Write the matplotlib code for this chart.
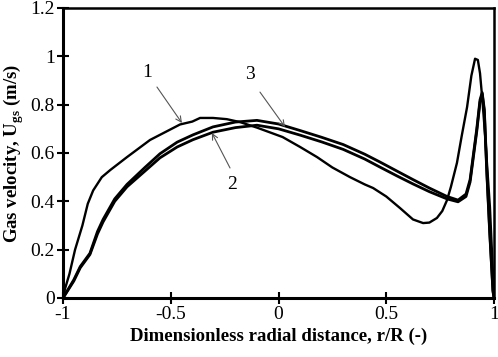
import matplotlib
matplotlib.use("Agg")
import matplotlib.pyplot as plt

plt.rcParams['font.family'] = ['Liberation Serif', 'DejaVu Serif']
plt.rcParams['mathtext.fontset'] = 'custom'
plt.rcParams['mathtext.rm'] = 'Liberation Serif'
plt.rcParams['mathtext.bf'] = 'Liberation Serif:bold'

# Curve 1
r1 = [-1, -0.99, -0.97, -0.944, -0.91, -0.885, -0.86, -0.82, -0.78, -0.703, -0.596, -0.457,
      -0.40, -0.364, -0.304, -0.24, -0.179, -0.10, 0.019, 0.10, 0.179, 0.25, 0.332, 0.40,
      0.439, 0.50, 0.564, 0.624, 0.671, 0.70, 0.735, 0.76, 0.782, 0.80, 0.828, 0.85,
      0.875, 0.895, 0.912, 0.925, 0.935, 0.945, 0.958, 0.97, 0.981, 0.99, 1.0]
u1 = [0, 0.04, 0.10, 0.20, 0.30, 0.39, 0.445, 0.50, 0.53, 0.583, 0.654, 0.718,
      0.73, 0.745, 0.745, 0.74, 0.728, 0.705, 0.666, 0.625, 0.583, 0.54, 0.50, 0.47,
      0.455, 0.42, 0.372, 0.325, 0.31, 0.312, 0.331, 0.36, 0.405, 0.46, 0.559, 0.67,
      0.79, 0.92, 0.99, 0.985, 0.93, 0.83, 0.683, 0.52, 0.376, 0.2, 0]

# Curves 2 and 3
r23 = [-1, -0.95, -0.92, -0.875, -0.84, -0.814, -0.76, -0.703, -0.62, -0.55, -0.47,
       -0.397, -0.304, -0.2, -0.1, 0, 0.1, 0.2, 0.3, 0.4, 0.47, 0.55, 0.624, 0.7, 0.782,
       0.833, 0.87, 0.889, 0.903, 0.92, 0.935, 0.945, 0.955, 0.967, 0.98, 0.995, 1.0]
u3 = [0, 0.075, 0.13, 0.185, 0.275, 0.325, 0.41, 0.47, 0.54, 0.597, 0.645,
      0.675, 0.708, 0.728, 0.735, 0.72, 0.693, 0.665, 0.635, 0.595, 0.563, 0.525, 0.49,
      0.455, 0.42, 0.405, 0.43, 0.49, 0.585, 0.70, 0.82, 0.85, 0.78, 0.52, 0.28, 0.03, 0]
u2 = [0, 0.07, 0.125, 0.18, 0.265, 0.315, 0.40, 0.46, 0.525, 0.58, 0.625,
      0.655, 0.686, 0.705, 0.715, 0.70, 0.674, 0.646, 0.615, 0.575, 0.542, 0.505, 0.472,
      0.44, 0.41, 0.398, 0.42, 0.48, 0.575, 0.69, 0.81, 0.845, 0.77, 0.51, 0.27, 0.03, 0]

xticks = [-1, -0.5, 0, 0.5, 1]
xticklabels = ['-1', '-0.5', '0', '0.5', '1']
yticks = [0, 0.2, 0.4, 0.6, 0.8, 1.0, 1.2]
yticklabels = ['0', '0.2', '0.4', '0.6', '0.8', '1', '1.2']

fig = plt.figure(figsize=(4.98, 3.57), dpi=100)
ax = fig.add_axes([0.1265, 0.1653, 0.8655, 0.8123])

ax.plot(r1, u1, color='black', lw=1.7, solid_joinstyle='round')
ax.plot(r23, u2, color='black', lw=2.0, solid_joinstyle='round')
ax.plot(r23, u3, color='black', lw=2.0, solid_joinstyle='round')

ax.set_xlim(-1, 1)
ax.set_ylim(0, 1.2)
ax.set_xticks(xticks)
ax.set_xticklabels(xticklabels)
ax.set_yticks(yticks)
ax.set_yticklabels(yticklabels)
ax.tick_params(direction='inout', length=8, width=1.5, labelsize=14, color='black', pad=2)

for side in ['left', 'bottom']:
    ax.spines[side].set_linewidth(2.2)
for side in ['top', 'right']:
    ax.spines[side].set_linewidth(1.8)

ax.set_xlabel('Dimensionless radial distance, r/R (-)', fontsize=13.5, fontweight='bold', labelpad=3)
ax.set_ylabel(r'Gas velocity, U$_{\mathbf{gs}}$ (m/s)', fontsize=13.5, fontweight='bold', labelpad=3)

arrow = dict(arrowstyle='->', color='#555555', lw=0.8, shrinkA=0, shrinkB=0)
ax.annotate('', xy=(-0.448, 0.724), xytext=(-0.564, 0.873), arrowprops=arrow)
ax.text(-0.61, 0.935, '1', fontsize=14, ha='center', va='center')
ax.annotate('', xy=(-0.309, 0.683), xytext=(-0.225, 0.538), arrowprops=arrow)
ax.text(-0.216, 0.468, '2', fontsize=14, ha='center', va='center')
ax.annotate('', xy=(0.030, 0.708), xytext=(-0.086, 0.852), arrowprops=arrow)
ax.text(-0.132, 0.923, '3', fontsize=14, ha='center', va='center')

fig.savefig('out.png', dpi=100)
